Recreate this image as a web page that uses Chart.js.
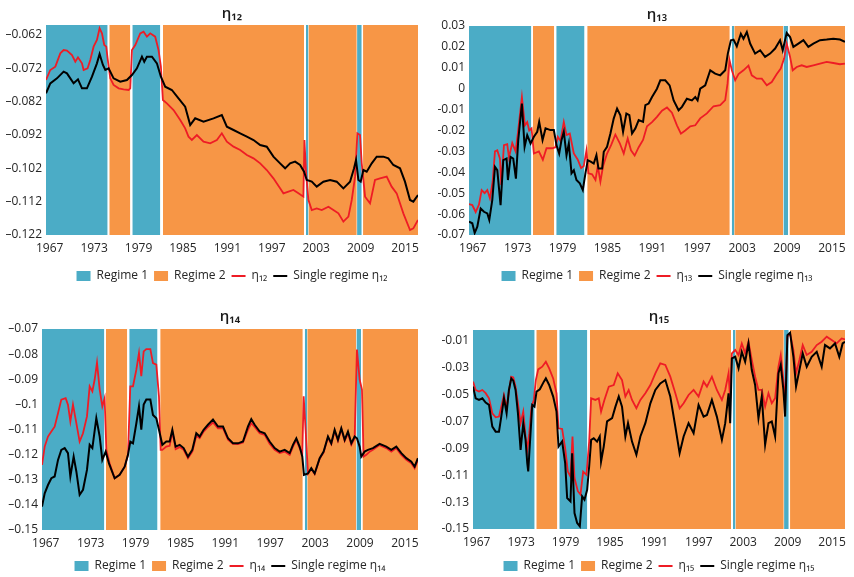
<!DOCTYPE html>
<html>
<head>
<meta charset="utf-8">
<script src="https://cdn.jsdelivr.net/npm/chart.js@4.4.1/dist/chart.umd.min.js"></script>
<style>
  body { margin: 0; background: #fff; width: 854px; height: 577px; overflow: hidden; position: relative; }
  .panel { position: absolute; }
</style>
</head>
<body>
<div class="panel" style="left:0;top:0;width:427px;height:292px"><canvas id="c12"></canvas></div>
<div class="panel" style="left:427px;top:0;width:427px;height:292px"><canvas id="c13"></canvas></div>
<div class="panel" style="left:0;top:290px;width:427px;height:292px"><canvas id="c14"></canvas></div>
<div class="panel" style="left:427px;top:290px;width:427px;height:292px"><canvas id="c15"></canvas></div>
<script>
// Regime-switching vs single regime estimates, four coefficients.
var xTickYears = [1967, 1973, 1979, 1985, 1991, 1997, 2003, 2009, 2015];
var xStart = 1966.5;
var xEnd = 2016.75;

// [from, to] in years
var regime1Spans = [[1966.5, 1974.83], [1978.16, 1981.94], [2001.62, 2001.95], [2008.52, 2009.15]];
var regime2Spans = [[1975.05, 1977.89], [1982.3, 2001.35], [2001.95, 2008.48], [2009.33, 2016.75]];

var yTicks12 = [-0.122, -0.112, -0.102, -0.092, -0.082, -0.072, -0.062];
var yLabels12 = ['–0.122', '–0.112', '–0.102', '–0.092', '–0.082', '–0.072', '–0.062'];
var yTicks13 = [-0.07, -0.06, -0.05, -0.04, -0.03, -0.02, -0.01, 0, 0.01, 0.02, 0.03];
var yLabels13 = ['-0.07', '-0.06', '-0.05', '-0.04', '-0.03', '-0.02', '-0.01', '0', '0.01', '0.02', '0.03'];
var yTicks14 = [-0.15, -0.14, -0.13, -0.12, -0.11, -0.1, -0.09, -0.08, -0.07];
var yLabels14 = ['–0.15', '–0.14', '–0.13', '–0.12', '–0.11', '–0.1', '–0.09', '–0.08', '–0.07'];
var yTicks15 = [-0.15, -0.13, -0.11, -0.09, -0.07, -0.05, -0.03, -0.01];
var yLabels15 = ['-0.15', '-0.13', '-0.11', '-0.09', '-0.07', '-0.05', '-0.03', '-0.01'];

// [year, value]
var eta12Regime = [[1966.5,-0.0755],[1967.08,-0.0725],[1967.76,-0.0715],[1968.43,-0.0675],[1968.88,-0.0665],[1969.33,-0.0667],[1970.01,-0.068],[1970.46,-0.070],[1970.82,-0.0687],[1971.36,-0.0705],[1971.58,-0.0725],[1972.12,-0.072],[1972.48,-0.0695],[1972.93,-0.0655],[1973.38,-0.0635],[1973.74,-0.060],[1974.06,-0.0615],[1974.37,-0.065],[1974.64,-0.0655],[1974.82,-0.069],[1975.18,-0.075],[1975.63,-0.077],[1976.31,-0.078],[1976.98,-0.0783],[1977.66,-0.0785],[1977.88,-0.078],[1978.11,-0.0665],[1978.56,-0.065],[1979.23,-0.0615],[1979.68,-0.061],[1980.13,-0.0625],[1980.58,-0.0615],[1981.25,-0.0625],[1981.70,-0.0665],[1982.02,-0.0715],[1982.29,-0.0815],[1982.83,-0.0825],[1983.73,-0.0845],[1984.63,-0.0875],[1985.30,-0.090],[1985.75,-0.0925],[1986.20,-0.0935],[1986.88,-0.092],[1987.78,-0.094],[1988.68,-0.0945],[1989.58,-0.0935],[1990.25,-0.0915],[1990.93,-0.094],[1991.83,-0.0955],[1992.73,-0.0965],[1993.63,-0.098],[1994.53,-0.099],[1995.43,-0.1005],[1996.32,-0.1025],[1997.22,-0.105],[1998.12,-0.108],[1998.57,-0.1095],[1999.25,-0.109],[1999.92,-0.1085],[2000.60,-0.1095],[2001.27,-0.1105],[2001.41,-0.0935],[2001.63,-0.1035],[2001.95,-0.1115],[2002.40,-0.1145],[2003.07,-0.114],[2003.75,-0.1145],[2004.65,-0.1135],[2005.32,-0.1145],[2006.00,-0.1155],[2006.67,-0.118],[2007.35,-0.1165],[2007.80,-0.1115],[2008.25,-0.1045],[2008.56,-0.0915],[2008.92,-0.092],[2009.15,-0.1005],[2009.60,-0.1105],[2010.27,-0.1125],[2010.94,-0.1055],[2011.62,-0.105],[2012.52,-0.1045],[2013.19,-0.1075],[2013.87,-0.1095],[2014.77,-0.1155],[2015.67,-0.1205],[2016.12,-0.120],[2016.75,-0.1175]];
var eta12Single = [[1966.5,-0.0795],[1967.08,-0.0765],[1967.98,-0.075],[1968.88,-0.073],[1969.33,-0.0735],[1970.23,-0.0765],[1970.82,-0.0753],[1971.36,-0.078],[1972.03,-0.078],[1972.71,-0.0745],[1973.38,-0.0705],[1973.74,-0.0677],[1974.19,-0.071],[1974.51,-0.0725],[1974.96,-0.072],[1975.63,-0.075],[1976.53,-0.076],[1977.43,-0.0755],[1978.11,-0.074],[1978.78,-0.072],[1979.46,-0.0685],[1979.77,-0.070],[1980.13,-0.0685],[1980.81,-0.0685],[1981.48,-0.0705],[1982.02,-0.0745],[1982.60,-0.0775],[1983.50,-0.0785],[1984.40,-0.081],[1985.30,-0.0835],[1985.98,-0.089],[1986.65,-0.087],[1987.78,-0.088],[1989.13,-0.087],[1990.25,-0.086],[1990.93,-0.0895],[1991.83,-0.0905],[1992.73,-0.0915],[1993.63,-0.0925],[1994.53,-0.0935],[1995.43,-0.095],[1996.32,-0.0955],[1997.22,-0.0985],[1998.12,-0.1005],[1998.80,-0.102],[1999.47,-0.1005],[2000.15,-0.100],[2000.82,-0.101],[2001.36,-0.103],[2001.72,-0.1055],[2002.40,-0.106],[2003.07,-0.1075],[2003.97,-0.106],[2004.87,-0.1055],[2005.77,-0.106],[2006.67,-0.108],[2007.57,-0.106],[2008.11,-0.102],[2008.38,-0.0995],[2008.70,-0.1055],[2009.01,-0.106],[2009.37,-0.1025],[2009.82,-0.103],[2010.50,-0.1005],[2011.17,-0.0985],[2012.07,-0.0985],[2012.74,-0.099],[2013.42,-0.101],[2014.32,-0.102],[2014.99,-0.106],[2015.67,-0.1115],[2016.12,-0.112],[2016.75,-0.110]];

var eta13Regime = [[1966.50,-0.0552],[1966.94,-0.0557],[1967.39,-0.059],[1967.83,-0.0555],[1968.19,-0.0485],[1968.59,-0.050],[1968.95,-0.0485],[1969.30,-0.0525],[1969.66,-0.0445],[1969.97,-0.030],[1970.28,-0.0295],[1970.64,-0.0335],[1970.81,-0.046],[1971.17,-0.027],[1971.61,-0.0265],[1971.84,-0.033],[1972.28,-0.026],[1972.73,-0.030],[1973.04,-0.021],[1973.57,-0.004],[1973.97,-0.0175],[1974.28,-0.016],[1974.55,-0.020],[1974.86,-0.019],[1975.17,-0.031],[1975.84,-0.030],[1976.37,-0.034],[1976.86,-0.0285],[1977.62,-0.0285],[1978.06,-0.028],[1978.37,-0.023],[1978.73,-0.025],[1979.17,-0.016],[1979.53,-0.0222],[1979.97,-0.0215],[1980.51,-0.031],[1981.04,-0.034],[1981.48,-0.038],[1981.84,-0.037],[1982.20,-0.0295],[1982.46,-0.0405],[1982.95,-0.041],[1983.40,-0.0437],[1983.71,-0.037],[1984.06,-0.0445],[1984.42,-0.037],[1984.95,-0.031],[1985.49,-0.027],[1986.06,-0.022],[1986.64,-0.026],[1987.18,-0.031],[1987.71,-0.0238],[1988.15,-0.0295],[1988.64,-0.032],[1989.18,-0.028],[1989.76,-0.0245],[1990.29,-0.018],[1990.96,-0.016],[1991.62,-0.0135],[1992.29,-0.0105],[1992.96,-0.009],[1993.62,-0.0115],[1994.29,-0.0175],[1994.82,-0.0215],[1995.40,-0.020],[1996.07,-0.018],[1996.74,-0.0175],[1997.40,-0.0142],[1998.29,-0.0118],[1999.18,-0.0084],[2000.07,-0.0079],[2000.74,-0.0055],[2001.05,0.0024],[2001.32,0.0136],[2001.63,0.0088],[2002.07,0.004],[2002.52,0.007],[2003.18,0.0088],[2003.85,0.011],[2004.29,0.0064],[2004.96,0.0048],[2005.63,0.0048],[2006.30,0.0016],[2006.96,0.0032],[2007.63,0.007],[2008.16,0.0096],[2008.61,0.0144],[2008.96,0.0216],[2009.41,0.0152],[2009.76,0.0088],[2010.30,0.0104],[2010.96,0.0112],[2011.63,0.0104],[2012.52,0.0112],[2013.41,0.012],[2014.30,0.0128],[2015.19,0.0123],[2016.08,0.0117],[2016.74,0.012]];
var eta13Single = [[1966.50,-0.0636],[1966.94,-0.0644],[1967.26,-0.069],[1967.61,-0.066],[1968.06,-0.0573],[1968.50,-0.0589],[1968.95,-0.0597],[1969.21,-0.0628],[1969.61,-0.0533],[1969.97,-0.0374],[1970.28,-0.039],[1970.72,-0.0557],[1971.08,-0.0342],[1971.52,-0.0334],[1971.70,-0.0437],[1972.06,-0.0326],[1972.41,-0.0334],[1972.77,-0.043],[1973.08,-0.0246],[1973.57,-0.0071],[1973.93,-0.0278],[1974.28,-0.0222],[1974.73,-0.0262],[1975.17,-0.023],[1975.62,-0.0206],[1975.88,-0.0159],[1976.33,-0.0246],[1976.73,-0.019],[1977.39,-0.0198],[1977.84,-0.0198],[1978.19,-0.027],[1978.55,-0.031],[1978.86,-0.0246],[1979.17,-0.0206],[1979.53,-0.0318],[1979.84,-0.0262],[1980.20,-0.0405],[1980.51,-0.039],[1980.86,-0.0437],[1981.31,-0.0453],[1981.71,-0.0485],[1982.06,-0.0405],[1982.37,-0.0342],[1982.82,-0.035],[1983.17,-0.0358],[1983.53,-0.0318],[1983.80,-0.0382],[1984.29,-0.0382],[1984.51,-0.0302],[1984.95,-0.0278],[1985.40,-0.0214],[1985.84,-0.0143],[1986.29,-0.0095],[1986.73,-0.0127],[1987.09,-0.0206],[1987.53,-0.0119],[1987.93,-0.0127],[1988.29,-0.0214],[1988.73,-0.019],[1989.18,-0.015],[1989.76,-0.0159],[1990.07,-0.0079],[1990.51,-0.0071],[1990.96,-0.004],[1991.62,0.0],[1992.07,0.004],[1992.73,0.004],[1993.31,0.0016],[1993.85,-0.0056],[1994.51,-0.0103],[1994.96,-0.0087],[1995.62,-0.0048],[1996.29,-0.0056],[1996.74,-0.004],[1997.05,-0.0056],[1997.40,0.0],[1998.07,0.0016],[1998.74,0.0088],[1999.40,0.0072],[2000.07,0.0064],[2000.74,0.0088],[2001.09,0.0168],[2001.50,0.0232],[2001.85,0.0235],[2002.29,0.0203],[2002.83,0.0263],[2003.18,0.0239],[2003.63,0.0271],[2004.07,0.0216],[2004.74,0.0168],[2005.41,0.0184],[2006.07,0.0152],[2006.74,0.0168],[2007.41,0.0192],[2008.07,0.0232],[2008.43,0.0184],[2008.96,0.0267],[2009.41,0.0247],[2009.85,0.02],[2010.52,0.0216],[2011.19,0.0232],[2011.85,0.02],[2012.52,0.0216],[2013.41,0.0232],[2014.30,0.0235],[2015.19,0.0239],[2016.08,0.0235],[2016.74,0.0224]];

var eta14Regime = [[1966.50,-0.1241],[1966.86,-0.1168],[1967.30,-0.1128],[1967.75,-0.1108],[1968.19,-0.1089],[1968.64,-0.1035],[1969.08,-0.0981],[1969.66,-0.0975],[1969.97,-0.1001],[1970.29,-0.1068],[1970.64,-0.1001],[1971.00,-0.106],[1971.53,-0.1148],[1971.98,-0.1115],[1972.51,-0.1048],[1972.87,-0.0928],[1973.23,-0.0948],[1973.54,-0.0901],[1973.85,-0.0834],[1974.21,-0.0941],[1974.56,-0.1008],[1974.87,-0.0975],[1975.10,-0.1181],[1975.54,-0.1235],[1976.21,-0.1294],[1976.88,-0.128],[1977.55,-0.1248],[1977.99,-0.1201],[1978.30,-0.0928],[1978.66,-0.0928],[1979.11,-0.0862],[1979.46,-0.0796],[1979.77,-0.0888],[1980.09,-0.0789],[1980.44,-0.078],[1980.98,-0.078],[1981.33,-0.0836],[1981.78,-0.0842],[1982.13,-0.0968],[1982.36,-0.1181],[1982.58,-0.1181],[1983.11,-0.1168],[1983.56,-0.1165],[1983.92,-0.1108],[1984.36,-0.1178],[1984.90,-0.117],[1985.43,-0.1181],[1986.01,-0.1214],[1986.59,-0.1188],[1987.12,-0.1125],[1987.57,-0.1135],[1988.10,-0.1108],[1988.68,-0.109],[1989.35,-0.1072],[1990.02,-0.1095],[1990.69,-0.1095],[1991.36,-0.1141],[1992.02,-0.1157],[1992.69,-0.1158],[1993.36,-0.1152],[1994.03,-0.1101],[1994.47,-0.1075],[1994.92,-0.109],[1995.59,-0.1115],[1996.26,-0.1121],[1996.92,-0.1157],[1997.59,-0.1181],[1998.26,-0.1194],[1998.93,-0.1188],[1999.60,-0.1201],[2000.04,-0.1168],[2000.49,-0.1141],[2000.93,-0.1174],[2001.29,-0.1194],[2001.47,-0.0968],[2001.73,-0.1101],[2002.05,-0.1275],[2002.49,-0.1256],[2002.94,-0.1277],[2003.61,-0.1216],[2004.14,-0.1191],[2004.72,-0.1131],[2005.16,-0.1158],[2005.61,-0.1105],[2006.05,-0.1145],[2006.50,-0.1098],[2006.95,-0.1145],[2007.39,-0.1115],[2007.84,-0.1161],[2008.28,-0.1135],[2008.59,-0.0782],[2008.95,-0.0901],[2009.26,-0.0941],[2009.48,-0.1208],[2009.84,-0.1201],[2010.29,-0.1188],[2010.73,-0.1181],[2011.62,-0.1162],[2012.51,-0.1174],[2013.18,-0.1188],[2013.85,-0.1174],[2014.52,-0.1201],[2015.19,-0.1221],[2015.86,-0.1234],[2016.30,-0.1254],[2016.74,-0.1221]];
var eta14Single = [[1966.50,-0.1407],[1966.86,-0.1354],[1967.30,-0.1321],[1967.75,-0.1294],[1968.19,-0.1287],[1968.64,-0.1221],[1969.08,-0.1181],[1969.53,-0.1174],[1969.97,-0.1194],[1970.29,-0.1287],[1970.73,-0.1208],[1971.09,-0.1267],[1971.53,-0.136],[1971.98,-0.134],[1972.51,-0.1261],[1972.87,-0.1161],[1973.23,-0.1174],[1973.76,-0.1055],[1974.21,-0.1128],[1974.56,-0.1221],[1975.01,-0.1188],[1975.45,-0.1235],[1976.21,-0.1294],[1976.88,-0.128],[1977.55,-0.1248],[1977.99,-0.1201],[1978.30,-0.1148],[1978.66,-0.1155],[1979.11,-0.1075],[1979.46,-0.1008],[1979.77,-0.1101],[1980.09,-0.1001],[1980.44,-0.0981],[1980.98,-0.0981],[1981.33,-0.1042],[1981.78,-0.1055],[1982.13,-0.1101],[1982.58,-0.1161],[1983.11,-0.1148],[1983.56,-0.1148],[1983.92,-0.1101],[1984.36,-0.1168],[1984.90,-0.1161],[1985.43,-0.1174],[1986.01,-0.1208],[1986.59,-0.1181],[1987.12,-0.1115],[1987.57,-0.1128],[1988.10,-0.1101],[1988.68,-0.1081],[1989.35,-0.106],[1990.02,-0.1088],[1990.69,-0.1088],[1991.36,-0.1135],[1992.02,-0.1155],[1992.69,-0.1155],[1993.36,-0.1148],[1994.03,-0.1088],[1994.47,-0.1059],[1994.92,-0.1081],[1995.59,-0.1108],[1996.26,-0.1115],[1996.92,-0.1148],[1997.59,-0.1174],[1998.26,-0.1188],[1998.93,-0.1181],[1999.60,-0.1194],[2000.04,-0.1161],[2000.49,-0.1135],[2000.93,-0.1168],[2001.29,-0.1208],[2001.51,-0.1281],[2002.05,-0.1275],[2002.49,-0.1254],[2002.94,-0.1275],[2003.61,-0.1214],[2004.14,-0.1188],[2004.72,-0.1128],[2005.16,-0.1155],[2005.61,-0.1101],[2006.05,-0.1141],[2006.50,-0.1095],[2006.95,-0.1141],[2007.39,-0.1108],[2007.84,-0.1155],[2008.28,-0.1128],[2008.59,-0.1135],[2008.95,-0.1168],[2009.17,-0.1208],[2009.62,-0.1188],[2010.06,-0.1181],[2010.73,-0.1174],[2011.62,-0.1157],[2012.51,-0.1168],[2013.18,-0.1181],[2013.85,-0.1168],[2014.52,-0.1194],[2015.19,-0.1214],[2015.86,-0.1228],[2016.30,-0.1248],[2016.74,-0.1214]];

var eta15Regime = [[1966.50,-0.0404],[1966.86,-0.0466],[1967.31,-0.0478],[1967.76,-0.0466],[1968.21,-0.049],[1968.66,-0.0528],[1969.11,-0.0639],[1969.56,-0.0669],[1970.01,-0.0664],[1970.32,-0.059],[1970.68,-0.0503],[1971.04,-0.0602],[1971.35,-0.0478],[1971.67,-0.0367],[1971.94,-0.0372],[1972.25,-0.0441],[1972.57,-0.0565],[1972.93,-0.0713],[1973.29,-0.0627],[1973.60,-0.0812],[1973.83,-0.0911],[1974.10,-0.0787],[1974.41,-0.059],[1974.72,-0.054],[1974.99,-0.0392],[1975.31,-0.0313],[1975.85,-0.0293],[1976.34,-0.0256],[1976.79,-0.0306],[1977.33,-0.038],[1977.78,-0.0491],[1978.05,-0.0751],[1978.54,-0.0756],[1978.95,-0.09],[1979.31,-0.1073],[1979.67,-0.1111],[1979.94,-0.0812],[1980.21,-0.1121],[1980.66,-0.1219],[1981.02,-0.1244],[1981.38,-0.1073],[1981.83,-0.1097],[1982.19,-0.0851],[1982.46,-0.0528],[1983.04,-0.054],[1983.49,-0.0528],[1983.80,-0.0627],[1984.25,-0.054],[1984.84,-0.0441],[1985.51,-0.0429],[1986.05,-0.0342],[1986.63,-0.0392],[1987.08,-0.0515],[1987.53,-0.0466],[1987.98,-0.054],[1988.57,-0.0602],[1989.11,-0.054],[1989.78,-0.0491],[1990.46,-0.0429],[1991.13,-0.0342],[1991.80,-0.0268],[1992.48,-0.028],[1993.15,-0.0367],[1993.83,-0.0491],[1994.41,-0.0602],[1994.95,-0.0565],[1995.62,-0.0503],[1996.30,-0.0466],[1996.97,-0.0515],[1997.65,-0.0404],[1998.10,-0.0441],[1998.77,-0.0367],[1999.44,-0.0466],[2000.12,-0.054],[2000.57,-0.0466],[2001.02,-0.0342],[2001.24,-0.054],[2001.47,-0.0194],[2001.92,-0.0169],[2002.37,-0.0206],[2002.81,-0.012],[2003.26,-0.0194],[2003.71,-0.0107],[2004.16,-0.0243],[2004.61,-0.0367],[2005.06,-0.0466],[2005.51,-0.0466],[2005.96,-0.059],[2006.41,-0.0491],[2006.86,-0.0565],[2007.31,-0.0528],[2007.76,-0.0293],[2008.07,-0.0206],[2008.43,-0.0392],[2008.66,-0.0565],[2008.97,-0.007],[2009.33,-0.0046],[2009.78,-0.0169],[2010.14,-0.0342],[2010.59,-0.0243],[2011.04,-0.0132],[2011.58,-0.0206],[2012.25,-0.0182],[2012.93,-0.0132],[2013.60,-0.0107],[2014.28,-0.007],[2014.95,-0.0095],[2015.62,-0.012],[2016.30,-0.0083],[2016.75,-0.009]];
var eta15Single = [[1966.50,-0.0441],[1966.86,-0.0528],[1967.31,-0.054],[1967.76,-0.0528],[1968.21,-0.056],[1968.66,-0.0577],[1969.11,-0.0738],[1969.56,-0.0776],[1970.01,-0.0776],[1970.32,-0.0664],[1970.68,-0.0528],[1971.04,-0.0639],[1971.35,-0.0466],[1971.67,-0.038],[1971.94,-0.0397],[1972.25,-0.0466],[1972.57,-0.0639],[1972.93,-0.0911],[1973.29,-0.0713],[1973.60,-0.0837],[1973.83,-0.101],[1973.96,-0.1072],[1974.19,-0.0862],[1974.50,-0.0577],[1974.81,-0.059],[1975.08,-0.0478],[1975.53,-0.0461],[1976.07,-0.0404],[1976.34,-0.038],[1976.79,-0.0429],[1977.33,-0.0515],[1977.78,-0.0627],[1978.05,-0.0887],[1978.54,-0.0849],[1978.95,-0.101],[1979.22,-0.127],[1979.67,-0.1295],[1979.89,-0.0936],[1980.21,-0.1381],[1980.57,-0.1455],[1980.93,-0.148],[1981.24,-0.1257],[1981.56,-0.1282],[1981.92,-0.1208],[1982.19,-0.1035],[1982.46,-0.0837],[1982.81,-0.0825],[1983.26,-0.085],[1983.62,-0.0812],[1983.80,-0.0998],[1984.16,-0.0887],[1984.61,-0.07],[1985.29,-0.0676],[1985.74,-0.059],[1986.19,-0.0515],[1986.63,-0.059],[1987.08,-0.0812],[1987.44,-0.0713],[1987.98,-0.085],[1988.57,-0.0948],[1989.11,-0.0812],[1989.78,-0.0713],[1990.46,-0.0565],[1991.13,-0.0466],[1991.80,-0.0417],[1992.48,-0.0392],[1993.15,-0.0515],[1993.83,-0.0738],[1994.41,-0.0936],[1994.95,-0.0812],[1995.62,-0.0713],[1996.30,-0.0787],[1996.97,-0.0577],[1997.65,-0.0664],[1998.10,-0.0652],[1998.77,-0.054],[1999.44,-0.0664],[2000.12,-0.0837],[2000.57,-0.0713],[2001.02,-0.0491],[2001.24,-0.0713],[2001.47,-0.0231],[2001.92,-0.0219],[2002.37,-0.0305],[2002.81,-0.0182],[2003.26,-0.0256],[2003.71,-0.012],[2004.16,-0.0318],[2004.61,-0.0429],[2005.06,-0.0676],[2005.51,-0.0515],[2005.96,-0.0874],[2006.41,-0.0713],[2006.86,-0.0701],[2007.31,-0.0812],[2007.76,-0.0342],[2008.07,-0.028],[2008.43,-0.0466],[2008.66,-0.0664],[2008.97,-0.0058],[2009.33,-0.004],[2009.78,-0.0219],[2010.14,-0.0441],[2010.59,-0.0318],[2011.04,-0.0194],[2011.58,-0.0293],[2012.25,-0.0219],[2012.93,-0.0182],[2013.60,-0.0293],[2014.05,-0.0132],[2014.72,-0.0157],[2015.40,-0.012],[2015.98,-0.0219],[2016.43,-0.012],[2016.75,-0.0107]];

(function () {
  'use strict';

  var BLUE = '#4BACC6';
  var ORANGE = '#F79646';
  var RED = '#EE1C25';
  var BLACK = '#000000';
  var TEXT = '#262626';

  Chart.defaults.font.family = "'Open Sans', 'Noto Sans', 'DejaVu Sans', sans-serif";
  Chart.defaults.font.size = 12;
  Chart.defaults.color = TEXT;

  function spanDataset(span, top, color) {
    return {
      data: [[span[0], top], [span[1], top]],
      fill: 'start',
      backgroundColor: color,
      borderColor: 'rgba(0,0,0,0)',
      borderWidth: 0,
      pointRadius: 0,
      tension: 0,
    };
  }

  function panel(id, p) {
    var sets = [
      { data: p.single, borderColor: BLACK, borderWidth: 2, fill: false, pointRadius: 0, tension: 0 },
      { data: p.regime, borderColor: RED, borderWidth: 1.8, fill: false, pointRadius: 0, tension: 0 },
    ];
    regime1Spans.forEach(function (s) { sets.push(spanDataset(s, p.yMax, BLUE)); });
    regime2Spans.forEach(function (s) { sets.push(spanDataset(s, p.yMax, ORANGE)); });

    new Chart(document.getElementById(id), {
      type: 'line',
      data: { datasets: sets },
      options: {
        responsive: true,
        maintainAspectRatio: false,
        animation: false,
        events: [],
        layout: { padding: p.pad },
        plugins: {
          tooltip: { enabled: false },
          title: {
            display: true,
            text: p.title,
            fullSize: false,
            color: '#1a1a1a',
            font: { size: 15, weight: '600' },
            padding: p.titlePad,
          },
          legend: {
            position: 'bottom',
            fullSize: false,
            onClick: null,
            labels: {
              usePointStyle: true,
              pointStyleWidth: 14,
              boxHeight: 10,
              padding: 6,
              color: TEXT,
              font: { size: 12 },
              generateLabels: function () {
                return [
                  { text: 'Regime 1', fillStyle: BLUE, strokeStyle: BLUE, lineWidth: 0, pointStyle: 'rect', fontColor: TEXT },
                  { text: 'Regime 2', fillStyle: ORANGE, strokeStyle: ORANGE, lineWidth: 0, pointStyle: 'rect', fontColor: TEXT },
                  { text: p.title, fillStyle: RED, strokeStyle: RED, lineWidth: 2, pointStyle: 'line', fontColor: TEXT },
                  { text: 'Single regime ' + p.title, fillStyle: BLACK, strokeStyle: BLACK, lineWidth: 2, pointStyle: 'line', fontColor: TEXT },
                ];
              },
            },
          },
        },
        scales: {
          x: {
            type: 'linear',
            min: xStart,
            max: xEnd,
            grid: { display: false, drawTicks: false },
            border: { display: false },
            afterBuildTicks: function (s) {
              s.ticks = xTickYears.map(function (v) { return { value: v }; });
            },
            afterFit: function (s) { s.height = p.xHeight; },
            ticks: {
              autoSkip: false,
              maxRotation: 0,
              padding: 6,
              callback: function (v) { return String(v); },
            },
          },
          y: {
            type: 'linear',
            min: p.yMin,
            max: p.yMax,
            grid: { display: false, drawTicks: false },
            border: { display: false },
            afterBuildTicks: function (s) {
              s.ticks = p.yTicks.map(function (v) { return { value: v }; });
            },
            afterFit: function (s) { s.width = p.yWidth; },
            ticks: {
              autoSkip: false,
              padding: 4,
              callback: function (v, i) { return p.yLabels[i]; },
            },
          },
        },
      },
    });
  }

  panel('c12', {
    title: 'η₁₂', regime: eta12Regime, single: eta12Single,
    yMin: -0.122, yMax: -0.059, yTicks: yTicks12, yLabels: yLabels12,
    yWidth: 46, xHeight: 29, titlePad: { top: 5, bottom: 2 },
    pad: { left: 0, right: 9, top: 0, bottom: 0 },
  });
  panel('c13', {
    title: 'η₁₃', regime: eta13Regime, single: eta13Single,
    yMin: -0.07, yMax: 0.03, yTicks: yTicks13, yLabels: yLabels13,
    yWidth: 42, xHeight: 29, titlePad: { top: 6, bottom: 2 },
    pad: { left: 0, right: 9, top: 0, bottom: 0 },
  });
  panel('c14', {
    title: 'η₁₄', regime: eta14Regime, single: eta14Single,
    yMin: -0.15, yMax: -0.07, yTicks: yTicks14, yLabels: yLabels14,
    yWidth: 42, xHeight: 24, titlePad: { top: 18, bottom: 3 },
    pad: { left: 0, right: 9, top: 0, bottom: 0 },
  });
  panel('c15', {
    title: 'η₁₅', regime: eta15Regime, single: eta15Single,
    yMin: -0.15, yMax: -0.002, yTicks: yTicks15, yLabels: yLabels15,
    yWidth: 46, xHeight: 25, titlePad: { top: 18, bottom: 4 },
    pad: { left: 0, right: 9, top: 0, bottom: 0 },
  });
})();
</script>
</body>
</html>
